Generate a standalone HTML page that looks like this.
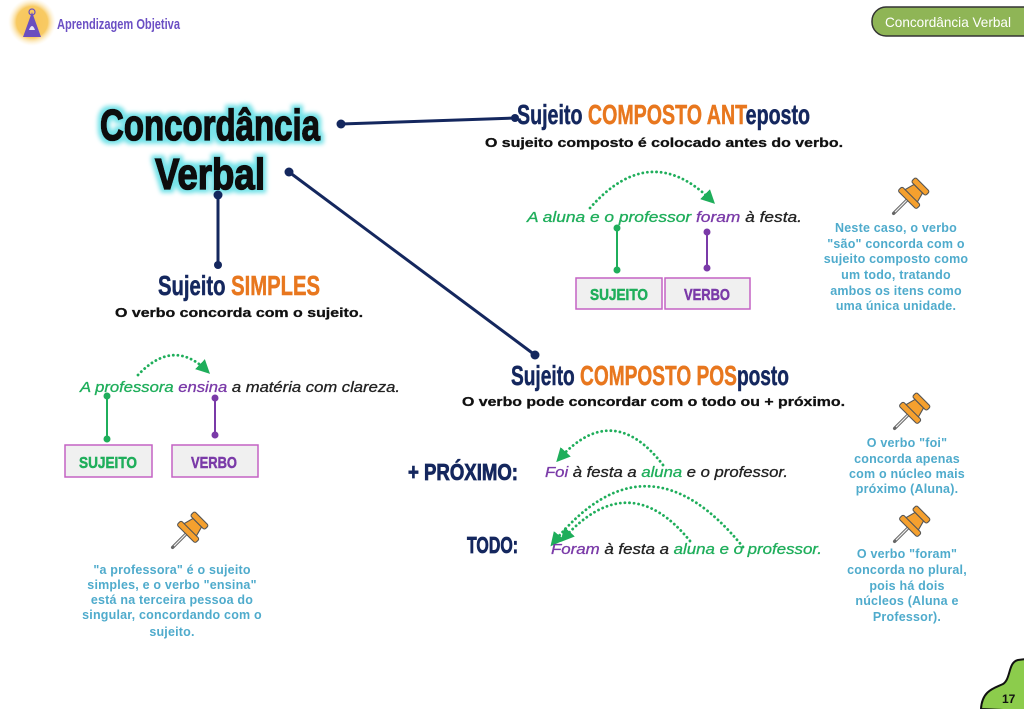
<!DOCTYPE html>
<html><head><meta charset="utf-8">
<style>
html,body{margin:0;padding:0;background:#fff;}
svg{display:block;}
text{font-family:"Liberation Sans","DejaVu Sans",sans-serif;}
.note{font-size:12.5px;font-weight:bold;fill:#4fabcc;letter-spacing:0.2px;}
</style></head>
<body>
<svg width="1024" height="709" viewBox="0 0 1024 709" xmlns="http://www.w3.org/2000/svg">
<defs>
<filter id="glow" x="-20%" y="-40%" width="140%" height="180%">
 <feMorphology in="SourceAlpha" operator="dilate" radius="3" result="d"/>
 <feGaussianBlur in="d" stdDeviation="2.2" result="b"/>
 <feFlood flood-color="#74e2e8"/>
 <feComposite in2="b" operator="in" result="g"/>
 <feMerge><feMergeNode in="g"/><feMergeNode in="SourceGraphic"/></feMerge>
</filter>
<radialGradient id="sun" cx="50%" cy="50%" r="50%">
 <stop offset="0" stop-color="#f7c55a"/>
 <stop offset="0.65" stop-color="#f8ca63"/>
 <stop offset="1" stop-color="#fdf0d0" stop-opacity="0"/>
</radialGradient>
<marker id="ag" viewBox="0 0 10 10" refX="6" refY="5" markerWidth="5" markerHeight="5" orient="auto">
 <path d="M0,0 L10,5 L0,10 z" fill="#1fae5b"/>
</marker>
<g id="pin">
 <line x1="0" y1="-2" x2="0" y2="19" stroke="#666" stroke-width="3.2" stroke-linecap="round"/>
 <line x1="0" y1="-2" x2="0" y2="17" stroke="#eee" stroke-width="1.2"/>
 <polygon points="-6,-16 6,-16 9,-5 -9,-5" fill="#f5a02e" stroke="#555" stroke-width="1.1"/>
 <rect x="-13" y="-6" width="26" height="6" rx="2" fill="#f5a02e" stroke="#555" stroke-width="1.1"/>
 <rect x="-10" y="-22" width="20" height="6" rx="2" fill="#f5a02e" stroke="#555" stroke-width="1.1"/>
</g>
</defs>

<!-- Logo -->
<circle cx="32" cy="22" r="24" fill="url(#sun)"/>
<polygon points="32,12 23,37 41,37" fill="#6a4fbf"/>
<path d="M29,30 Q32,22 35,30 Z" fill="#fff" opacity="0.85"/>
<circle cx="32" cy="12" r="3" fill="none" stroke="#6a4fbf" stroke-width="1.2"/>
<text x="57" y="29" font-size="15" font-weight="bold" fill="#6b4fc4" textLength="123" lengthAdjust="spacingAndGlyphs">Aprendizagem Objetiva</text>

<!-- top right pill -->
<rect x="872" y="7" width="170" height="29" rx="14" fill="#8fb556" stroke="#333" stroke-width="1.5"/>
<text x="885" y="27" font-size="14" fill="#fff" textLength="126" lengthAdjust="spacingAndGlyphs">Concordância Verbal</text>

<!-- corner page -->
<path d="M981,709 C982,690 995,688 1003,684 C1011,679 1008,662 1018,660 L1026,659 L1026,711 Z" fill="#8ccc4c" stroke="#111" stroke-width="2"/>
<text x="1002" y="703" font-size="12" font-weight="bold" fill="#111">17</text>

<!-- Title -->
<g filter="url(#glow)">
<text x="100" y="140" font-size="44" font-weight="bold" fill="#111" stroke="#111" stroke-width="1.6" textLength="220" lengthAdjust="spacingAndGlyphs">Concordância</text>
<text x="155" y="189" font-size="44" font-weight="bold" fill="#111" stroke="#111" stroke-width="1.6" textLength="110" lengthAdjust="spacingAndGlyphs">Verbal</text>
</g>

<!-- connectors -->
<g stroke="#14275e" stroke-width="3" fill="#14275e">
<line x1="341" y1="124" x2="515" y2="118"/>
<circle cx="341" cy="124" r="4.5" stroke="none"/>
<circle cx="515" cy="118" r="4" stroke="none"/>
<line x1="218" y1="195" x2="218" y2="264"/>
<circle cx="218" cy="195" r="4.5" stroke="none"/>
<circle cx="218" cy="265" r="4" stroke="none"/>
<line x1="289" y1="172" x2="535" y2="355"/>
<circle cx="289" cy="172" r="4.5" stroke="none"/>
<circle cx="535" cy="355" r="4.5" stroke="none"/>
</g>

<!-- ANTeposto -->
<text x="517" y="124" font-size="28" font-weight="bold" stroke-width="0.5" textLength="293" lengthAdjust="spacingAndGlyphs"><tspan fill="#14275e" stroke="#14275e">Sujeito </tspan><tspan fill="#e8771e" stroke="#e8771e">COMPOSTO ANT</tspan><tspan fill="#14275e" stroke="#14275e">eposto</tspan></text>
<text x="485" y="147" font-size="13" font-weight="bold" fill="#111" stroke="#111" stroke-width="0.3" textLength="358" lengthAdjust="spacingAndGlyphs">O sujeito composto é colocado antes do verbo.</text>
<path d="M590,208 Q650,140 711,200" fill="none" stroke="#1fae5b" stroke-width="2.8" stroke-dasharray="0.1 4.5" stroke-linecap="round" marker-end="url(#ag)"/>
<text x="527" y="222" font-size="15" font-style="italic" stroke-width="0.3" textLength="275" lengthAdjust="spacingAndGlyphs"><tspan fill="#1fae5b" stroke="#1fae5b">A aluna e o professor </tspan><tspan fill="#7a3aa8" stroke="#7a3aa8">foram</tspan><tspan fill="#222" stroke="#222"> à festa.</tspan></text>
<line x1="617" y1="228" x2="617" y2="270" stroke="#1fae5b" stroke-width="2"/>
<circle cx="617" cy="228" r="3.5" fill="#1fae5b"/><circle cx="617" cy="270" r="3.5" fill="#1fae5b"/>
<line x1="707" y1="232" x2="707" y2="268" stroke="#7a3aa8" stroke-width="2"/>
<circle cx="707" cy="232" r="3.5" fill="#7a3aa8"/><circle cx="707" cy="268" r="3.5" fill="#7a3aa8"/>
<rect x="576" y="278" width="86" height="31" fill="#f0f0f0" stroke="#c462c4" stroke-width="1.5"/>
<rect x="665" y="278" width="85" height="31" fill="#f0f0f0" stroke="#c462c4" stroke-width="1.5"/>
<text x="619" y="300" font-size="16" font-weight="bold" fill="#1fae5b" stroke="#1fae5b" stroke-width="0.5" text-anchor="middle" textLength="58" lengthAdjust="spacingAndGlyphs">SUJEITO</text>
<text x="707" y="300" font-size="16" font-weight="bold" fill="#7a3aa8" stroke="#7a3aa8" stroke-width="0.5" text-anchor="middle" textLength="46" lengthAdjust="spacingAndGlyphs">VERBO</text>

<use href="#pin" transform="translate(907,200) rotate(45)"/>
<g class="note" text-anchor="middle">
<text x="896" y="232">Neste caso, o verbo</text>
<text x="896" y="248">"são" concorda com o</text>
<text x="896" y="263">sujeito composto como</text>
<text x="896" y="279">um todo, tratando</text>
<text x="896" y="295">ambos os itens como</text>
<text x="896" y="310">uma única unidade.</text>
</g>

<!-- SIMPLES -->
<text x="158" y="295" font-size="28" font-weight="bold" stroke-width="0.5" textLength="162" lengthAdjust="spacingAndGlyphs"><tspan fill="#14275e" stroke="#14275e">Sujeito </tspan><tspan fill="#e8771e" stroke="#e8771e">SIMPLES</tspan></text>
<text x="115" y="317" font-size="13" font-weight="bold" fill="#111" stroke="#111" stroke-width="0.3" textLength="248" lengthAdjust="spacingAndGlyphs">O verbo concorda com o sujeito.</text>
<path d="M138,375 Q173,338 206,370" fill="none" stroke="#1fae5b" stroke-width="2.8" stroke-dasharray="0.1 4.5" stroke-linecap="round" marker-end="url(#ag)"/>
<text x="80" y="392" font-size="15" font-style="italic" stroke-width="0.3" textLength="320" lengthAdjust="spacingAndGlyphs"><tspan fill="#1fae5b" stroke="#1fae5b">A professora </tspan><tspan fill="#7a3aa8" stroke="#7a3aa8">ensina</tspan><tspan fill="#222" stroke="#222"> a matéria com clareza.</tspan></text>
<line x1="107" y1="396" x2="107" y2="439" stroke="#1fae5b" stroke-width="2"/>
<circle cx="107" cy="396" r="3.5" fill="#1fae5b"/><circle cx="107" cy="439" r="3.5" fill="#1fae5b"/>
<line x1="215" y1="398" x2="215" y2="435" stroke="#7a3aa8" stroke-width="2"/>
<circle cx="215" cy="398" r="3.5" fill="#7a3aa8"/><circle cx="215" cy="435" r="3.5" fill="#7a3aa8"/>
<rect x="65" y="445" width="87" height="32" fill="#f0f0f0" stroke="#c462c4" stroke-width="1.5"/>
<rect x="172" y="445" width="86" height="32" fill="#f0f0f0" stroke="#c462c4" stroke-width="1.5"/>
<text x="108" y="468" font-size="16" font-weight="bold" fill="#1fae5b" stroke="#1fae5b" stroke-width="0.5" text-anchor="middle" textLength="58" lengthAdjust="spacingAndGlyphs">SUJEITO</text>
<text x="214" y="468" font-size="16" font-weight="bold" fill="#7a3aa8" stroke="#7a3aa8" stroke-width="0.5" text-anchor="middle" textLength="46" lengthAdjust="spacingAndGlyphs">VERBO</text>

<use href="#pin" transform="translate(186,534) rotate(45)"/>
<g class="note" text-anchor="middle">
<text x="172" y="574">"a professora" é o sujeito</text>
<text x="172" y="589">simples, e o verbo "ensina"</text>
<text x="172" y="604">está na terceira pessoa do</text>
<text x="172" y="619">singular, concordando com o</text>
<text x="172" y="636">sujeito.</text>
</g>

<!-- POSposto -->
<text x="511" y="385" font-size="28" font-weight="bold" stroke-width="0.5" textLength="278" lengthAdjust="spacingAndGlyphs"><tspan fill="#14275e" stroke="#14275e">Sujeito </tspan><tspan fill="#e8771e" stroke="#e8771e">COMPOSTO POS</tspan><tspan fill="#14275e" stroke="#14275e">posto</tspan></text>
<text x="462" y="406" font-size="13" font-weight="bold" fill="#111" stroke="#111" stroke-width="0.3" textLength="383" lengthAdjust="spacingAndGlyphs">O verbo pode concordar com o todo ou + próximo.</text>

<text x="408" y="480" font-size="23" font-weight="bold" fill="#14275e" stroke="#14275e" stroke-width="0.8" textLength="110" lengthAdjust="spacingAndGlyphs">+ PRÓXIMO:</text>
<path d="M663,465 Q613,400 560,458" fill="none" stroke="#1fae5b" stroke-width="2.8" stroke-dasharray="0.1 4.5" stroke-linecap="round" marker-end="url(#ag)"/>
<text x="545" y="477" font-size="15" font-style="italic" stroke-width="0.3" textLength="243" lengthAdjust="spacingAndGlyphs"><tspan fill="#7a3aa8" stroke="#7a3aa8">Foi</tspan><tspan fill="#222" stroke="#222"> à festa a </tspan><tspan fill="#1fae5b" stroke="#1fae5b">aluna</tspan><tspan fill="#222" stroke="#222"> e o professor.</tspan></text>

<text x="467" y="553" font-size="23" font-weight="bold" fill="#14275e" stroke="#14275e" stroke-width="0.8" textLength="51" lengthAdjust="spacingAndGlyphs">TODO:</text>
<path d="M690,541 Q629,466 564,538" fill="none" stroke="#1fae5b" stroke-width="2.8" stroke-dasharray="0.1 4.5" stroke-linecap="round" marker-end="url(#ag)"/>
<path d="M743,547 Q647,428 554,542" fill="none" stroke="#1fae5b" stroke-width="2.8" stroke-dasharray="0.1 4.5" stroke-linecap="round" marker-end="url(#ag)"/>
<text x="551" y="554" font-size="15" font-style="italic" stroke-width="0.3" textLength="271" lengthAdjust="spacingAndGlyphs"><tspan fill="#7a3aa8" stroke="#7a3aa8">Foram</tspan><tspan fill="#222" stroke="#222"> à festa a </tspan><tspan fill="#1fae5b" stroke="#1fae5b">aluna e o professor.</tspan></text>

<use href="#pin" transform="translate(908,415) rotate(45)"/>
<g class="note" text-anchor="middle">
<text x="907" y="447">O verbo "foi"</text>
<text x="907" y="463">concorda apenas</text>
<text x="907" y="478">com o núcleo mais</text>
<text x="907" y="493">próximo (Aluna).</text>
</g>
<use href="#pin" transform="translate(908,528) rotate(45)"/>
<g class="note" text-anchor="middle">
<text x="907" y="558">O verbo "foram"</text>
<text x="907" y="574">concorda no plural,</text>
<text x="907" y="590">pois há dois</text>
<text x="907" y="605">núcleos (Aluna e</text>
<text x="907" y="621">Professor).</text>
</g>
</svg>
</body></html>
